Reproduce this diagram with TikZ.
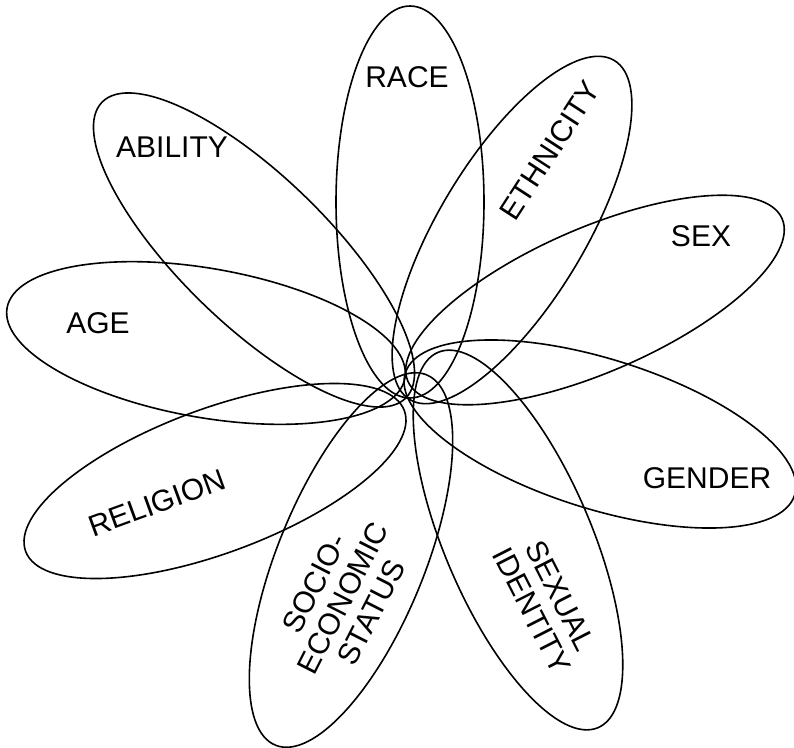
\documentclass[tikz,border=0pt]{standalone}
\usepackage{fontspec}
\setmainfont{Liberation Sans}
\usetikzlibrary{shapes.geometric}

\begin{document}
\begin{tikzpicture}[x=1pt, y=1pt,
  petal/.style={draw, ellipse, line width=1.6pt, inner sep=0pt},
  tag/.style={align=center, inner sep=0pt, font=\fontsize{30}{32}\selectfont}]
\useasboundingbox (0,0) rectangle (794,-747);
\node[petal, minimum width=392pt, minimum height=148pt, rotate=90] (race) at (410,-202) {};
\node[petal, minimum width=396pt, minimum height=146pt, rotate=58.9] (ethnicity) at (512,-230) {};
\node[petal, minimum width=408pt, minimum height=144pt, rotate=23.5] (sex) at (595,-300) {};
\node[petal, minimum width=408pt, minimum height=150pt, rotate=-17.4] (gender) at (600,-434) {};
\node[petal, minimum width=408pt, minimum height=147pt, rotate=-66.9] (sexual) at (518,-540) {};
\node[petal, minimum width=400pt, minimum height=147pt, rotate=67.8] (socio) at (351,-560) {};
\node[petal, minimum width=404pt, minimum height=144pt, rotate=20.4] (religion) at (215,-481) {};
\node[petal, minimum width=404pt, minimum height=149pt, rotate=-10] (age) at (206,-343) {};
\node[petal, minimum width=424pt, minimum height=148pt, rotate=-44.2] (ability) at (254,-250) {};
\node[tag] (racetxt) at (407,-77) {RACE};
\node[tag, rotate=57] (ethnicitytxt) at (550,-150) {ETHNICITY};
\node[tag] (sextxt) at (701,-236) {SEX};
\node[tag] (gendertxt) at (707,-478) {GENDER};
\node[tag, rotate=-63] (sexualtxt) at (546,-603) {SEXUAL\\IDENTITY};
\node[tag, rotate=63] (sociotxt) at (343,-598) {SOCIO-\\ECONOMIC\\STATUS};
\node[tag, rotate=20] (religiontxt) at (157,-503) {RELIGION};
\node[tag] (agetxt) at (98,-323) {AGE};
\node[tag] (abilitytxt) at (172,-147) {ABILITY};
\end{tikzpicture}
\end{document}
